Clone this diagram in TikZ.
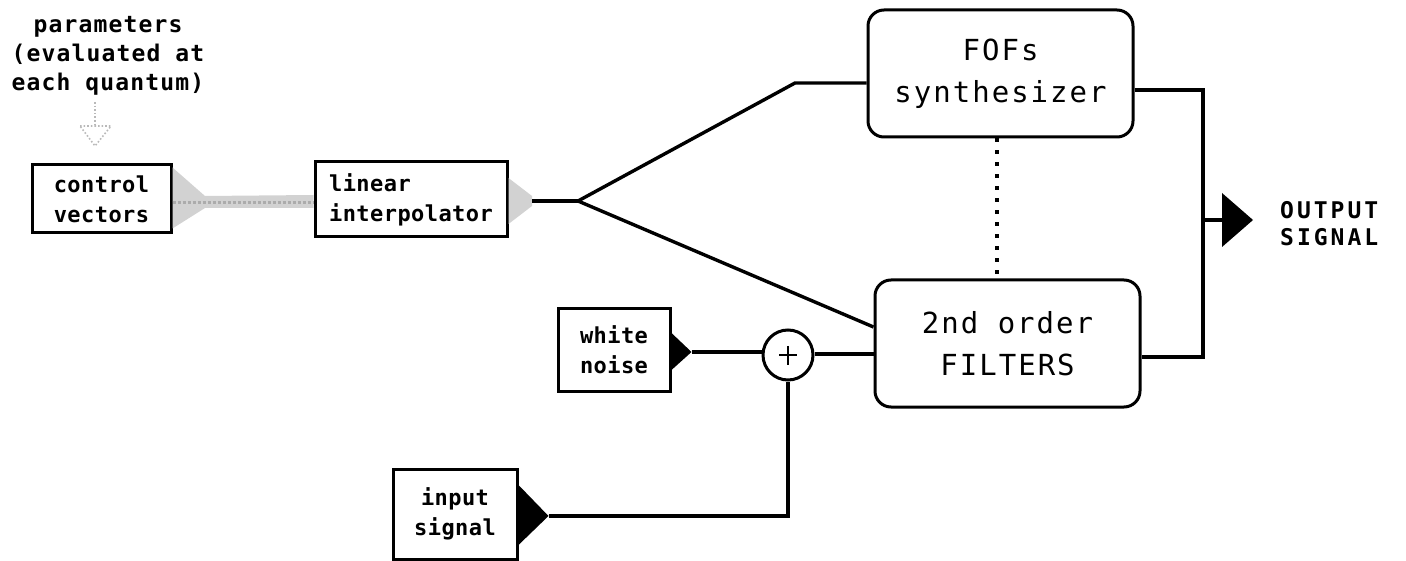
\documentclass[tikz,border=0pt]{standalone}
\usepackage{fontspec}
\newfontfamily\lblfont[LetterSpace=2]{DejaVu Sans Mono}
\newfontfamily\headfont[LetterSpace=5]{DejaVu Sans Mono}
\newfontfamily\outfont[LetterSpace=13]{DejaVu Sans Mono}
\newfontfamily\bigfont[LetterSpace=7]{DejaVu Sans Mono}
\usetikzlibrary{calc}
\tikzset{
  wire/.style={line width=3.4pt},
  boxstyle/.style={draw, line width=3pt, inner sep=0pt},
  smallbox/.style={boxstyle, font=\lblfont\bfseries\fontsize{22}{30}\selectfont, align=center},
  bigbox/.style={boxstyle, rounded corners=16pt, font=\bigfont\fontsize{29}{42}\selectfont, align=center},
  plain/.style={inner sep=0pt, align=center},
  fuzz/.style={fill=gray!35, draw=none},
  tip/.style={fill=black}
}
\begin{document}
\begin{tikzpicture}[x=1pt, y=-1pt]
\useasboundingbox (0,0) rectangle (1406,561);

% parameter heading and its faint arrow
\node[plain, font=\headfont\bfseries\fontsize{23}{29}\selectfont] (par) at (108,56)
  {parameters\\(evaluated at\\each quantum)};
\draw[gray!55, line width=1.6pt, dotted] (95,102) -- (95,124);
\draw[gray!55, line width=1.6pt, dotted] (80,126) -- (111,126) -- (95,146) -- cycle;

% blocks
\node[smallbox, minimum width=139pt, minimum height=68pt] (cv) at (101.5,199) {control\\vectors};
\node[smallbox, minimum width=192pt, minimum height=75pt, align=left] (li) at (411,199.5) {linear\\interpolator};
\node[bigbox, minimum width=265pt, minimum height=127pt] (fof) at (1000.5,73.5) {FOFs\\synthesizer};
\node[bigbox, minimum width=265pt, minimum height=127pt] (flt) at (1007.5,343.5) {2nd order\\FILTERS};
\node[smallbox, minimum width=112pt, minimum height=83pt] (wn) at (614,350) {white\\noise};
\node[smallbox, minimum width=124pt, minimum height=90pt] (is) at (455,514) {input\\signal};
\node[draw, circle, line width=3pt, minimum size=50pt, inner sep=0pt] (sum) at (788,355) {};
\draw[line width=2.6pt] ($(sum.center)+(-9,0)$) -- ($(sum.center)+(9,0)$)
                        ($(sum.center)+(0,-9)$) -- ($(sum.center)+(0,10)$);

% shaded link from control vectors to the interpolator
\fill[fuzz] (cv.north east) ++(0,4) -- (205,196) -- (li.west |- 0,195) -- (li.west |- 0,208)
  -- (205,208) -- ($(cv.south east)+(0,-6)$) -- cycle;
\draw[gray!65, line width=3pt, dotted] (cv.east |- 0,203) -- (li.west |- 0,203);
\fill[fuzz] (li.east |- 0,178) -- (532,196) -- (532,206) -- (li.east |- 0,224) -- cycle;

% split of the interpolated parameters
\coordinate (split) at (578,201);
\coordinate (knee) at (795,83);
\draw[wire] (532,201) -- (split);
\draw[wire] (split) -- (knee) -- (fof.west |- knee);
\draw[wire] (split) -- (flt.west |- 0,327);

% source triangles
\fill[tip] ($(wn.east)+(0,-17)$) -- ($(wn.east)+(20,2)$) -- ($(wn.east)+(0,20)$) -- cycle;
\coordinate (wntip) at ($(wn.east)+(20,2)$);
\fill[tip] ($(is.east)+(0,-29)$) -- ($(is.east)+(30,2)$) -- ($(is.east)+(0,31)$) -- cycle;
\coordinate (istip) at ($(is.east)+(30,2)$);

% summing junction wiring
\draw[wire] (wntip) -- (sum.west |- wntip);
\draw[wire] (sum.east |- 0,354) -- (flt.west |- 0,354);
\draw[wire] (istip) -- (sum.center |- istip) -- (sum.south);

% link between synthesizer and filters
\draw[line width=4pt, dash pattern=on 4pt off 8pt] (fof.south -| 997,0) -- (flt.north -| 997,0);

% output bus
\coordinate (bus) at (1203,220);
\draw[wire] (fof.east |- 0,90) -- (1203,90) -- (1203,357) -- (flt.east |- 0,357);
\draw[wire] (bus) -- (1224,220);
\fill[tip] (1222,193) -- (1253,220) -- (1222,247) -- cycle;
\node[plain, font=\outfont\bfseries\fontsize{23}{27}\selectfont, anchor=west] (out) at (1280,224)
  {OUTPUT\\SIGNAL};
\end{tikzpicture}
\end{document}
